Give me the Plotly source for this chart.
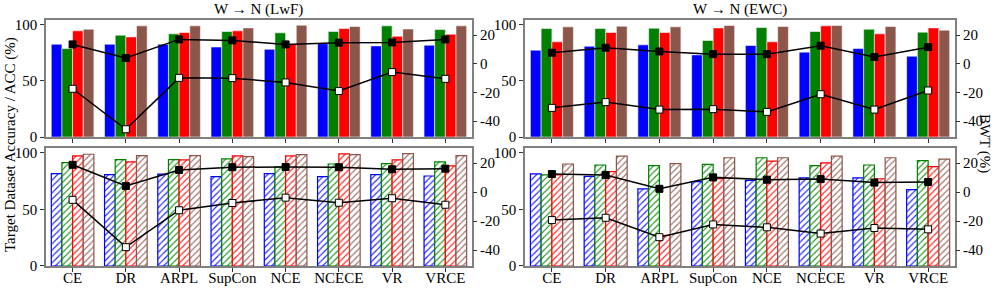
import plotly.graph_objects as go

categories = ["CE", "DR", "ARPL", "SupCon", "NCE", "NCECE", "VR", "VRCE"]
series_colors = ["#0000ff", "#008000", "#ff0000", "#8c564b"]

# Top-left: W -> N (LwF), solid bars
lwf_top_bars = [
    [82.5, 82.5, 82.5, 80.0, 78.0, 83.0, 81.0, 81.6],
    [78.6, 90.5, 91.7, 93.8, 92.6, 93.8, 98.8, 95.5],
    [94.4, 89.0, 92.9, 94.4, 82.5, 96.4, 89.6, 91.4],
    [95.8, 98.8, 98.8, 97.0, 99.4, 98.2, 96.0, 98.8],
]
lwf_top_bwt_black = [13.5, 4.0, 17.0, 16.3, 13.5, 14.7, 14.9, 17.0]
lwf_top_bwt_white = [-17.4, -45.6, -9.8, -10.0, -13.0, -19.0, -5.8, -10.5]

# Top-right: W -> N (EWC), solid bars
ewc_top_bars = [
    [77.2, 80.7, 81.9, 73.0, 81.3, 75.4, 78.6, 71.8],
    [96.4, 96.4, 96.7, 85.8, 97.3, 93.8, 95.8, 93.2],
    [84.6, 92.9, 92.9, 97.0, 84.6, 98.8, 91.7, 97.0],
    [97.9, 98.5, 97.9, 99.1, 98.2, 99.1, 98.2, 95.0],
]
ewc_top_bwt_black = [7.7, 11.2, 8.6, 6.7, 6.7, 12.6, 4.7, 11.6]
ewc_top_bwt_white = [-30.7, -26.7, -31.9, -31.6, -33.5, -21.2, -31.9, -18.6]

# Bottom-left: LwF, hatched bars
lwf_bot_bars = [
    [81.4, 80.5, 81.0, 78.7, 81.4, 78.7, 80.5, 79.3],
    [91.1, 93.8, 93.8, 94.4, 87.3, 89.9, 90.2, 91.7],
    [97.0, 91.7, 93.5, 97.0, 97.0, 98.8, 93.5, 88.2],
    [98.5, 97.3, 97.3, 96.4, 98.2, 98.2, 99.1, 97.3],
]
lwf_bot_bwt_black = [18.9, 4.2, 15.3, 17.2, 17.4, 17.2, 15.8, 16.2]
lwf_bot_bwt_white = [-5.3, -38.0, -12.5, -7.5, -3.8, -7.3, -4.2, -8.7]

# Bottom-right: EWC, hatched bars
ewc_bot_bars = [
    [81.2, 78.9, 67.9, 74.3, 75.4, 77.7, 77.7, 67.3],
    [80.3, 89.0, 88.4, 89.6, 95.4, 88.4, 89.0, 92.8],
    [80.3, 83.2, 27.0, 77.0, 92.5, 90.8, 76.9, 87.6],
    [89.9, 96.8, 90.2, 95.4, 95.4, 96.8, 95.4, 94.2],
]
ewc_bot_bwt_black = [12.5, 11.8, 2.3, 10.2, 8.6, 9.0, 6.6, 7.0]
ewc_bot_bwt_white = [-19.3, -17.7, -31.1, -22.3, -24.3, -28.6, -24.8, -25.7]

titles = ["W \u2192 N (LwF)", "W \u2192 N (EWC)"]
left_ticks = [0, 50, 100]
right_ticks = [-40, -20, 0, 20]

FONT = "Liberation Serif"
fig = go.Figure()

panels = [
    # (bars, black, white, hatched, xdomain, ydomain, show_xlabels)
    (lwf_top_bars, lwf_top_bwt_black, lwf_top_bwt_white, False, [0.0461, 0.4734], [0.5276, 0.931], False),
    (ewc_top_bars, ewc_top_bwt_black, ewc_top_bwt_white, False, [0.5266, 0.9579], [0.5276, 0.931], False),
    (lwf_bot_bars, lwf_bot_bwt_black, lwf_bot_bwt_white, True, [0.0461, 0.4734], [0.0828, 0.4897], True),
    (ewc_bot_bars, ewc_bot_bwt_black, ewc_bot_bwt_white, True, [0.5266, 0.9579], [0.0828, 0.4897], True),
]

layout = {}
for i, (bars, black, white, hatched, xd, yd, showx) in enumerate(panels):
    xa = "x" if i == 0 else f"x{i+1}"
    ya = "y" if i == 0 else f"y{i+1}"
    ya2 = f"y{i+5}"
    for s, vals in enumerate(bars):
        c = series_colors[s]
        if hatched:
            marker = dict(color="white",
                          line=dict(color=c, width=1.2),
                          pattern=dict(shape="/", fgcolor=c, bgcolor="white", size=4.5, solidity=0.25, fgopacity=0.9))
        else:
            marker = dict(color=c, line=dict(color="rgba(255,255,255,0.55)", width=1))
        fig.add_trace(go.Bar(x=categories, y=vals, marker=marker, xaxis=xa, yaxis=ya,
                             showlegend=False, offsetgroup=str(s)))
    fig.add_trace(go.Scatter(x=categories, y=black, mode="lines+markers", xaxis=xa, yaxis=ya2,
                             line=dict(color="black", width=1.5),
                             marker=dict(symbol="square", size=7, color="black", line=dict(color="black", width=1)),
                             showlegend=False))
    fig.add_trace(go.Scatter(x=categories, y=white, mode="lines+markers", xaxis=xa, yaxis=ya2,
                             line=dict(color="black", width=1.5),
                             marker=dict(symbol="square", size=7, color="white", line=dict(color="black", width=1)),
                             showlegend=False))

    xkey = "xaxis" if i == 0 else f"xaxis{i+1}"
    ykey = "yaxis" if i == 0 else f"yaxis{i+1}"
    layout[xkey] = dict(domain=xd, anchor=ya, showticklabels=showx, ticks="outside", ticklen=4,
                        tickcolor="#333", showline=True, linecolor="#808080", linewidth=1.5, mirror=True,
                        showgrid=False, zeroline=False, automargin=False,
                        ticklabelstandoff=-7,
                        tickfont=dict(family=FONT, size=15, color="black"),
                        range=[-0.5, 7.5])
    layout[ykey] = dict(domain=yd, anchor=xa, range=[0, 104], tickvals=left_ticks, ticks="outside",
                        ticklen=4, tickcolor="#333", showline=True, linecolor="#808080", linewidth=1.5,
                        mirror=True, showgrid=False, zeroline=False, automargin=False,
                        tickfont=dict(family=FONT, size=15, color="black"))
    layout[f"yaxis{i+5}"] = dict(overlaying=ya, anchor=xa, side="right", range=[-51, 30.5],
                                 tickvals=right_ticks, ticktext=[str(t) for t in right_ticks],
                                 ticks="outside", ticklen=4, tickcolor="#333", showgrid=False,
                                 zeroline=False, showline=False, automargin=False,
                                 tickfont=dict(family=FONT, size=15, color="black"))

fig.update_layout(template="none")
fig.update_layout(**layout)
fig.update_layout(
    width=997, height=290,
    margin=dict(l=0, r=0, t=0, b=0, pad=0),
    paper_bgcolor="white", plot_bgcolor="white",
    barmode="group", bargap=0.2, bargroupgap=0.0,
    font=dict(family=FONT, size=15, color="black"),
    annotations=[
        dict(text=titles[0], x=0.2597, y=1.0 - 10 / 290, xref="paper", yref="paper",
             showarrow=False, font=dict(family=FONT, size=15), xanchor="center", yanchor="middle"),
        dict(text=titles[1], x=0.7423, y=1.0 - 10 / 290, xref="paper", yref="paper",
             showarrow=False, font=dict(family=FONT, size=15), xanchor="center", yanchor="middle"),
        dict(text="Target Dataset Accuracy / ACC (%)", x=10 / 997, y=1.0 - 145 / 290,
             xref="paper", yref="paper", showarrow=False, textangle=-90,
             font=dict(family=FONT, size=15), xanchor="center", yanchor="middle"),
        dict(text="BWT (%)", x=985 / 997, y=1.0 - 143 / 290, xref="paper", yref="paper",
             showarrow=False, textangle=90, font=dict(family=FONT, size=15),
             xanchor="center", yanchor="middle"),
    ],
)

fig.write_html("out.html", config={"displayModeBar": False},
               post_script="document.body.style.margin='0';document.body.style.overflow='hidden';")
